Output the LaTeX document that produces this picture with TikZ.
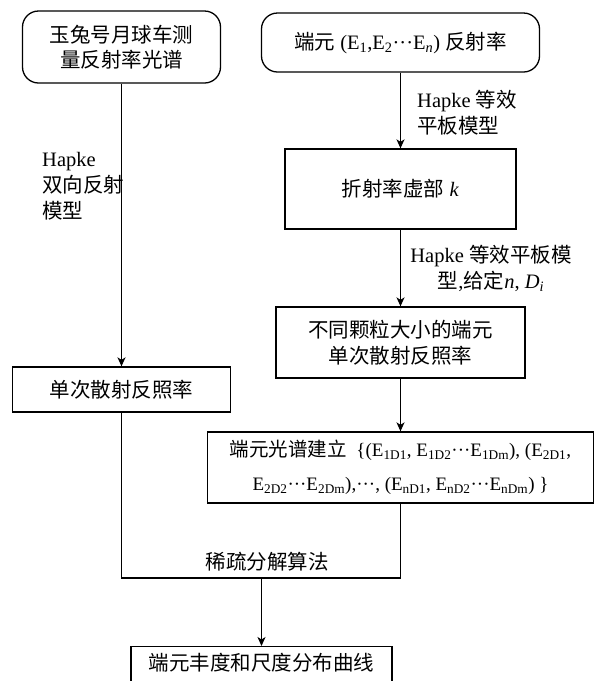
\documentclass[tikz,border=0pt]{standalone}
\usepackage{fontspec}
\setmainfont{Liberation Serif}
\newfontfamily\cjk{Noto Sans CJK SC}
\usetikzlibrary{arrows.meta}
\newcommand\zh[1]{{\cjk #1}}
\newcommand\zhs[1]{{\fontsize{19.5}{20}\selectfont\cjk #1}}
\newcommand\sbs[1]{\textsubscript{#1}}
\newcommand\mdots{\textperiodcentered\textperiodcentered\textperiodcentered}
\begin{document}
\begin{tikzpicture}[x=1pt,y=-1pt,
  box/.style={draw, line width=1.3pt, align=center, inner sep=0pt, font=\fontsize{20.5}{25.5}\selectfont},
  rbox/.style={box, rounded corners=16pt},
  arr/.style={-{Stealth[length=9pt,width=8pt,inset=2.5pt]}, line width=1.3pt},
  conn/.style={line width=1.3pt},
  lbl/.style={inner sep=0pt, font=\fontsize{20.5}{26}\selectfont}]
\useasboundingbox (0,0) rectangle (596,681);

\node[rbox, minimum width=198pt, minimum height=72pt] (n1) at (121.5,47) {\zh{玉兔号月球车测}\\\zh{量反射率光谱}};
\node[rbox, minimum width=278pt, minimum height=59pt] (n2) at (400.5,42.5) {\zh{端元} (E\sbs{1},E\sbs{2}\mdots E\sbs{\textit{n}}) \zh{反射率}};
\node[box, minimum width=231pt, minimum height=80pt] (n3) at (400.5,189) {\zh{折射率虚部} \textit{k}};
\node[box, minimum width=249pt, minimum height=71pt] (n4) at (400.5,342.5) {\zh{不同颗粒大小的端元}\\\zh{单次散射反照率}};
\node[box, minimum width=386pt, minimum height=71pt, font=\fontsize{19}{34}\selectfont] (n5) at (400.5,467.5)
  {\zhs{端元光谱建立}\ \ \{(E\sbs{1D1}, E\sbs{1D2}\mdots E\sbs{1Dm}), (E\sbs{2D1},\\
   E\sbs{2D2}\mdots E\sbs{2Dm}),\mdots, (E\sbs{nD1}, E\sbs{nD2}\mdots E\sbs{nDm}) \}};
\node[box, minimum width=218pt, minimum height=45pt] (n6) at (121.5,389.5) {\zh{单次散射反照率}};
\node[box, anchor=north, minimum width=261pt, minimum height=60pt] (n7) at (261.5,646) {};
\node[lbl] (n7t) at (261.5,663) {\zh{端元丰度和尺度分布曲线}};

\node[lbl, anchor=west, align=left] (l1) at (42,186) {Hapke\\\zh{双向反射}\\\zh{模型}};
\node[lbl, anchor=west, align=left] (l2) at (417,112.5) {Hapke \zh{等效}\\\zh{平板模型}};
\node[lbl, align=center] (l3) at (491,268.5) {Hapke \zh{等效平板模}\\\zh{型},\zh{给定}\textit{n}, \textit{D}\sbs{\textit{i}}};
\node[lbl] (l4) at (267,562) {\zh{稀疏分解算法}};

\coordinate (m) at (261.5,578);
\draw[arr] (n1.south) -- (n6.north);
\draw[arr] (n2.south) -- (n3.north);
\draw[arr] (n3.south) -- (n4.north);
\draw[arr] (n4.south) -- (n5.north);
\draw[conn] (n6.south) |- (m) -| (n5.south);
\draw[arr] (m) -- (n7.north);
\end{tikzpicture}
\end{document}
